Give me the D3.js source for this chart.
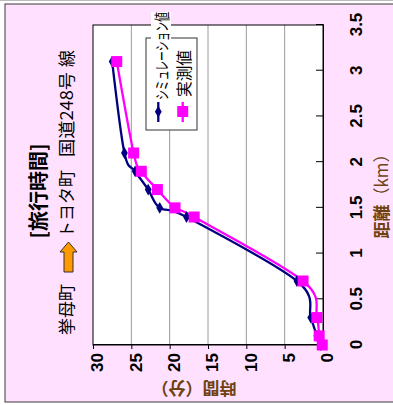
<!DOCTYPE html>
<html>
<head>
<meta charset="utf-8">
<script src="https://cdn.jsdelivr.net/npm/d3@7"></script>
<style>
body { margin: 0; background: #fff; }
svg { display: block; }
.jp { font-family: "Noto Sans CJK JP", sans-serif; }
.num { font-family: "Liberation Sans", Arial, sans-serif; font-weight: bold; }
</style>
</head>
<body>
<svg width="393" height="405"></svg>
<script>
// data (distance km, travel time min)
var distance = [0, 0.1, 0.3, 0.7, 1.4, 1.5, 1.7, 1.9, 2.1, 3.1];
var simTime = [0.3, 0.8, 1.6, 3.4, 17.8, 21.3, 22.8, 24.5, 25.9, 27.5];
var obsTime = [0.1, 0.5, 0.8, 2.6, 16.8, 19.3, 21.6, 23.7, 24.7, 26.9];
var xTicks = [0, 0.5, 1, 1.5, 2, 2.5, 3, 3.5];
var yTicks = [0, 5, 10, 15, 20, 25, 30];
var seriesNames = ["シミュレーション値", "実測値"];

var svg = d3.select("svg");

svg.append("line")
  .attr("x1", 0).attr("x2", 393).attr("y1", 0.5).attr("y2", 0.5)
  .attr("stroke", "#bbb");

// the whole chart is turned 90deg counter-clockwise, so draw it in a local frame
var W = 405;
var g = svg.append("g").attr("transform", "translate(0," + W + ") rotate(-90)");

var margin = {top: 93, right: 25, bottom: 70, left: 60},
    width = 380 - margin.left,
    height = 323 - margin.top;

g.append("rect")
  .attr("x", 3).attr("y", 5)
  .attr("width", 398).attr("height", 400)
  .attr("fill", "#ffe0ff")
  .attr("stroke", "#3a3a3a");

var x = d3.scaleLinear().domain([0, 3.5]).range([0, width]),
    y = d3.scaleLinear().domain([0, 30]).range([height, 0]);

var plot = g.append("g").attr("transform", "translate(" + margin.left + "," + margin.top + ")");

plot.append("rect")
  .attr("width", width).attr("height", height)
  .attr("fill", "#fff");

// gridlines
plot.selectAll(".grid")
  .data(yTicks.slice(1, -1))
  .enter().append("line")
  .attr("x1", 0).attr("x2", width)
  .attr("y1", function(d) { return y(d); })
  .attr("y2", function(d) { return y(d); })
  .attr("stroke", "#9a9a9a");

plot.append("rect")
  .attr("width", width).attr("height", height)
  .attr("fill", "none")
  .attr("stroke", "#000");

// distance axis
var xAxis = plot.append("g")
  .attr("transform", "translate(0," + height + ")")
  .call(d3.axisBottom(x).tickValues(xTicks).tickSize(-7).tickFormat(d3.format("")));
xAxis.select(".domain").attr("stroke", "#000");
xAxis.selectAll("text")
  .attr("class", "num")
  .attr("y", 39).attr("dy", null)
  .attr("font-size", 17)
  .attr("fill", "#000");

// time axis
var yAxis = plot.append("g")
  .call(d3.axisLeft(y).tickValues(yTicks).tickSize(4));
yAxis.selectAll("text")
  .attr("class", "num")
  .attr("x", -8).attr("y", 4.5)
  .attr("font-size", 17)
  .attr("fill", "#000");

// lines
var simLine = d3.line()
  .x(function(d, i) { return x(distance[i]); })
  .y(function(d) { return y(d); })
  .curve(d3.curveCatmullRom.alpha(0));

plot.append("path")
  .attr("d", simLine(simTime))
  .attr("fill", "none")
  .attr("stroke", "#000080")
  .attr("stroke-width", 2.3);

plot.append("path")
  .attr("d", simLine(obsTime))
  .attr("fill", "none")
  .attr("stroke", "#ff00ff")
  .attr("stroke-width", 2.3);

var diamond = d3.symbol().type(d3.symbolDiamond).size(40);

plot.selectAll(".sim")
  .data(simTime)
  .enter().append("path")
  .attr("class", "sim")
  .attr("d", diamond)
  .attr("transform", function(d, i) { return "translate(" + x(distance[i]) + "," + y(d) + ") rotate(90)"; })
  .attr("fill", "#000080");

plot.selectAll(".obs")
  .data(obsTime)
  .enter().append("rect")
  .attr("class", "obs")
  .attr("x", function(d, i) { return x(distance[i]) - 5.5; })
  .attr("y", function(d) { return y(d) - 5.5; })
  .attr("width", 11).attr("height", 11)
  .attr("fill", "#ff00ff");

// legend
var lg = g.append("g");
lg.append("rect")
  .attr("x", 275).attr("y", 146)
  .attr("width", 92).attr("height", 51)
  .attr("fill", "#fff")
  .attr("stroke", "#333");
lg.append("rect")
  .attr("x", 305).attr("y", 151)
  .attr("width", 88).attr("height", 20)
  .attr("fill", "#fff");

lg.append("line")
  .attr("x1", 283).attr("x2", 303).attr("y1", 158.3).attr("y2", 158.3)
  .attr("stroke", "#000080").attr("stroke-width", 2.3);
lg.append("path")
  .attr("d", diamond)
  .attr("transform", "translate(293.3,158.3) rotate(90)")
  .attr("fill", "#000080");
lg.append("line")
  .attr("x1", 283).attr("x2", 303).attr("y1", 182.7).attr("y2", 182.7)
  .attr("stroke", "#ff00ff").attr("stroke-width", 2.3);
lg.append("rect")
  .attr("x", 288).attr("y", 177.2)
  .attr("width", 11).attr("height", 11)
  .attr("fill", "#ff00ff");

lg.append("text")
  .attr("class", "jp")
  .attr("x", 305).attr("y", 167.5)
  .attr("font-size", 15.5)
  .attr("textLength", 88).attr("lengthAdjust", "spacingAndGlyphs")
  .text(seriesNames[0]);
lg.append("text")
  .attr("class", "jp")
  .attr("x", 308).attr("y", 190)
  .attr("font-size", 16)
  .attr("textLength", 47).attr("lengthAdjust", "spacingAndGlyphs")
  .text(seriesNames[1]);

// titles
g.append("text")
  .attr("class", "jp")
  .attr("x", 214).attr("y", 46)
  .attr("text-anchor", "middle")
  .attr("font-size", 20).attr("font-weight", "bold")
  .text("[旅行時間]");

var sub = g.append("g").attr("class", "jp").attr("font-size", 17);
sub.append("text").attr("x", 70).attr("y", 73).text("挙母町");
sub.append("text").attr("x", 167).attr("y", 73).text("トヨタ町");
sub.append("text").attr("x", 248).attr("y", 73)
  .attr("textLength", 85).attr("lengthAdjust", "spacingAndGlyphs")
  .text("国道248号");
sub.append("text").attr("x", 338).attr("y", 73).text("線");

// orange arrow
g.append("path")
  .attr("d", "M133,64 L153,64 L153,60 L163,68.5 L153,77 L153,73 L133,73 Z")
  .attr("fill", "#ff9900")
  .attr("stroke", "#333")
  .attr("stroke-width", 1);

// axis titles
var xt = g.append("text")
  .attr("class", "jp")
  .attr("x", 213).attr("y", 388)
  .attr("text-anchor", "middle")
  .attr("font-size", 17)
  .attr("fill", "#6e4210");
xt.append("tspan").attr("font-weight", "bold").text("距離");
xt.append("tspan").text("（km）");

g.append("text")
  .attr("class", "jp")
  .attr("transform", "translate(23,194) rotate(-90)")
  .attr("text-anchor", "middle")
  .attr("font-size", 17).attr("font-weight", "bold")
  .attr("fill", "#6e4210")
  .text("時間（分）");
</script>
</body>
</html>
